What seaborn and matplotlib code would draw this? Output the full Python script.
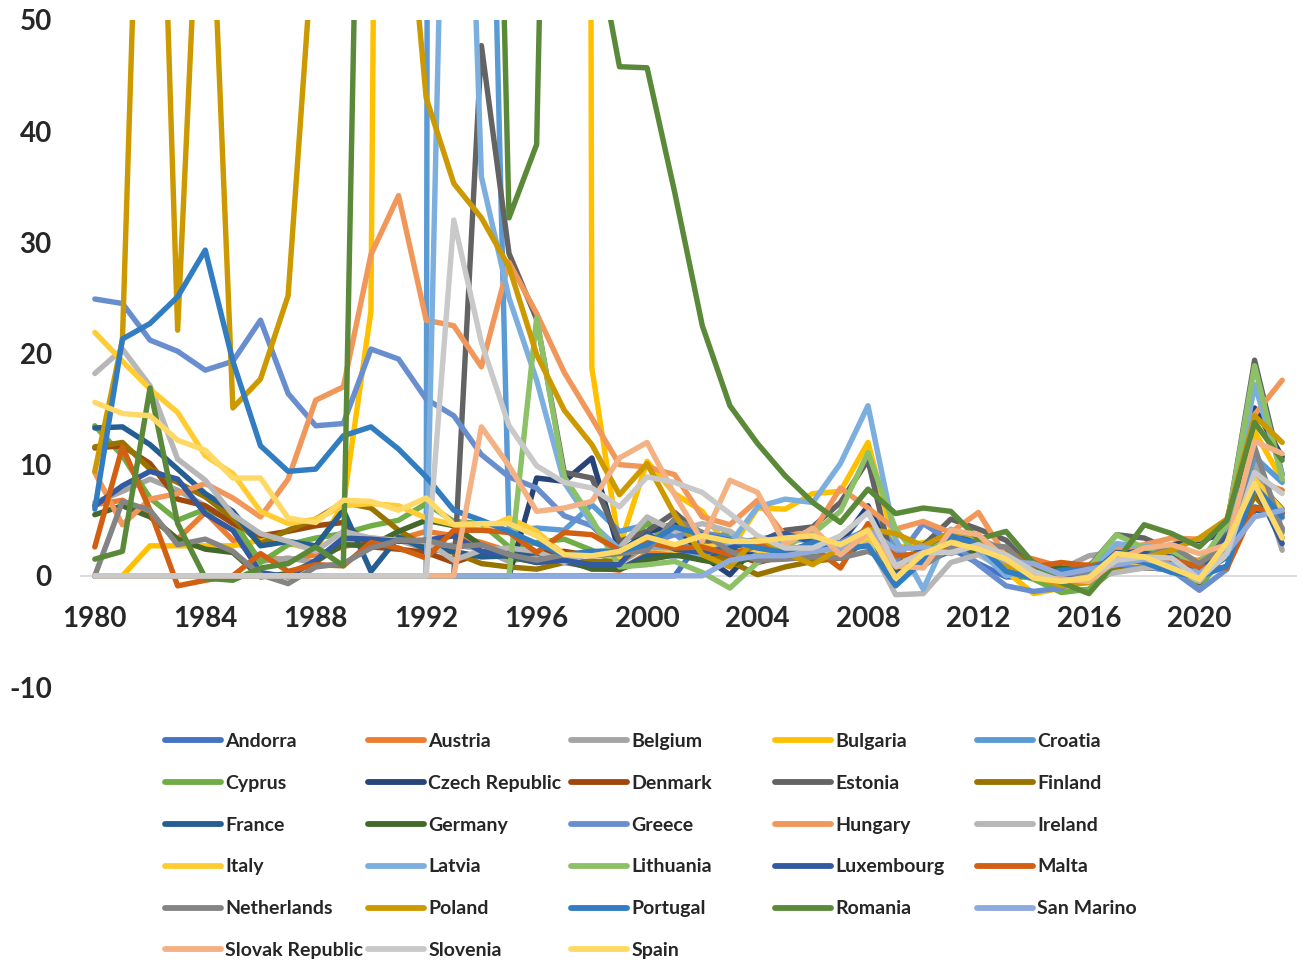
import matplotlib
matplotlib.use("Agg")
import matplotlib.pyplot as plt
import pandas as pd
import seaborn as sns

# Annual inflation, average consumer prices (%), 1980-2023
years = list(range(1980, 2024))

andorra = [0] * 22 + [3.4, 3.1, 3.2, 3.7, 3.6, 2.5, 4.3, 0.8,
                      1.7, 2.5, 1.1, -0.1, -0.1, -1.1, -0.4, 2.6, 1.0, 0.5,
                      0.1, 1.7, 6.2, 5.6]
austria = [6.4, 6.8, 5.4, 3.3, 5.7, 3.2, 1.7, 1.4, 1.9, 2.6,
           3.3, 3.3, 4.0, 3.6, 3.0, 2.2, 1.8, 1.2, 0.8, 0.5,
           2.0, 2.3, 1.7, 1.3, 2.0, 2.1, 1.7, 2.2, 3.2, 0.4,
           1.7, 3.6, 2.6, 2.1, 1.5, 0.8, 1.0, 2.2, 2.1, 1.5,
           1.4, 2.8, 8.6, 7.7]
belgium = [6.6, 7.6, 8.7, 7.7, 6.3, 4.9, 1.3, 1.6, 1.2, 3.1,
           3.4, 3.2, 2.4, 2.8, 2.4, 1.3, 1.8, 1.5, 0.9, 1.1,
           2.7, 2.4, 1.6, 1.5, 1.9, 2.5, 2.3, 1.8, 4.5, 0.0,
           2.3, 3.4, 2.6, 1.2, 0.5, 0.6, 1.8, 2.2, 2.3, 1.2,
           0.4, 3.2, 10.3, 2.3]
bulgaria = [0, 0, 2.7, 2.7, 2.7, 2.7, 3.2, 2.9, 2.4, 6.4,
            23.8, 338.0, 91.3, 72.9, 96.1, 62.1, 123.0, 1058.0, 18.7, 2.6,
            10.3, 7.4, 5.8, 2.3, 6.1, 6.0, 7.4, 7.6, 12.0, 2.5,
            3.0, 3.4, 2.4, 0.4, -1.6, -1.1, -1.3, 1.2, 2.6, 2.5,
            1.2, 2.8, 13.0, 8.6]
croatia = [0] * 13 + [1500.0, 107.0, 4.0, 4.3, 4.1, 6.4, 4.0,
                      4.6, 3.8, 1.7, 1.8, 2.0, 3.3, 3.2, 2.9, 6.1, 2.4,
                      1.0, 2.3, 3.4, 2.2, -0.2, -0.5, -0.6, 1.3, 1.6, 0.8,
                      0.0, 2.7, 10.7, 8.4]
cyprus = [13.5, 10.8, 7.0, 5.0, 6.0, 5.0, 1.2, 2.8, 3.4, 3.8,
          4.5, 5.0, 6.5, 4.9, 4.7, 2.6, 3.0, 3.3, 2.3, 1.1,
          4.9, 2.0, 2.8, 4.0, 1.9, 2.0, 2.2, 2.2, 4.4, 0.2,
          2.6, 3.5, 3.1, 0.4, -0.3, -1.5, -1.2, 0.7, 0.8, 0.5,
          -1.1, 2.3, 8.1, 3.9]
czech = [0] * 16 + [8.8, 8.5, 10.6, 2.1,
                    3.9, 4.7, 1.8, 0.1, 2.8, 1.8, 2.5, 2.9, 6.3, 1.0,
                    1.4, 2.2, 3.5, 1.4, 0.4, 0.3, 0.7, 2.5, 2.2, 2.8,
                    3.2, 3.8, 15.1, 10.7]
denmark = [11.5, 11.7, 10.1, 6.9, 6.3, 4.7, 3.6, 4.0, 4.5, 4.8,
           2.6, 2.4, 2.1, 1.2, 2.0, 2.1, 2.1, 2.2, 1.8, 2.1,
           2.7, 2.3, 2.4, 2.1, 1.2, 1.8, 1.9, 1.7, 3.6, 1.1,
           2.2, 2.7, 2.4, 0.5, 0.4, 0.2, 0.0, 1.1, 0.7, 0.7,
           0.3, 1.9, 8.5, 3.4]
estonia = [0] * 14 + [47.7, 29.0, 23.1, 9.3, 8.8, 3.1,
                      4.0, 5.7, 3.6, 1.4, 3.0, 4.1, 4.4, 6.6, 10.4, -0.1,
                      2.7, 5.1, 4.2, 3.2, 0.5, 0.1, 0.8, 3.7, 3.4, 2.3,
                      -0.6, 4.5, 19.4, 9.1]
finland = [11.6, 12.0, 9.6, 8.4, 7.1, 5.2, 2.9, 4.1, 5.1, 6.6,
           6.1, 4.1, 2.6, 2.1, 1.1, 0.8, 0.6, 1.2, 1.3, 1.3,
           2.9, 2.7, 2.0, 1.3, 0.1, 0.8, 1.3, 1.6, 3.9, 1.6,
           1.7, 3.3, 3.2, 2.2, 1.2, -0.2, 0.4, 0.8, 1.2, 1.1,
           0.4, 2.1, 7.2, 4.3]
france = [13.3, 13.4, 11.8, 9.6, 7.4, 5.8, 2.7, 3.1, 2.7, 5.9,
          0.4, 3.5, 2.4, 2.2, 1.7, 1.8, 2.1, 1.3, 0.7, 0.6,
          1.8, 1.8, 1.9, 2.2, 2.3, 1.9, 1.9, 1.6, 3.2, 0.1,
          1.7, 2.3, 2.2, 1.0, 0.6, 0.1, 0.3, 1.2, 2.1, 1.3,
          0.5, 2.1, 5.9, 5.7]
germany = [5.5, 6.3, 5.3, 3.3, 2.4, 2.1, -0.1, 0.2, 1.3, 2.8,
           2.7, 4.0, 5.0, 4.5, 2.7, 1.7, 1.2, 1.5, 0.6, 0.6,
           1.4, 1.9, 1.4, 1.0, 1.8, 1.9, 1.8, 2.3, 2.8, 0.2,
           1.1, 2.5, 2.2, 1.6, 0.8, 0.7, 0.4, 1.7, 1.9, 1.4,
           0.4, 3.2, 8.7, 6.0]
greece = [24.9, 24.5, 21.2, 20.2, 18.5, 19.3, 23.0, 16.4, 13.5, 13.7,
          20.4, 19.5, 15.9, 14.4, 10.9, 8.9, 7.9, 5.4, 4.5, 2.1,
          2.9, 3.7, 3.9, 3.4, 3.0, 3.5, 3.3, 3.0, 4.2, 1.3,
          4.7, 3.1, 1.0, -0.9, -1.4, -1.1, 0.0, 1.1, 0.8, 0.5,
          -1.3, 0.6, 9.3, 4.2]
hungary = [9.3, 4.6, 6.9, 7.4, 8.3, 7.0, 5.3, 8.7, 15.8, 17.0,
           28.9, 34.2, 23.0, 22.5, 18.8, 28.2, 23.6, 18.3, 14.2, 10.0,
           9.8, 9.1, 5.3, 4.6, 6.8, 3.6, 3.9, 7.9, 6.1, 4.2,
           4.9, 3.9, 5.7, 1.7, -0.2, -0.1, 0.4, 2.4, 2.8, 3.4,
           3.3, 5.1, 14.5, 17.6]
ireland = [18.2, 20.4, 17.1, 10.5, 8.6, 5.5, 3.8, 3.1, 2.2, 4.0,
           3.4, 3.2, 3.1, 1.4, 2.3, 2.5, 2.2, 1.2, 2.1, 2.5,
           5.3, 4.0, 4.7, 4.0, 2.3, 2.2, 2.7, 2.9, 3.1, -1.7,
           -1.6, 1.2, 1.9, 0.5, 0.3, 0.0, -0.2, 0.3, 0.7, 0.9,
           -0.5, 2.4, 8.1, 5.2]
italy = [21.9, 19.3, 16.8, 14.7, 10.8, 9.2, 5.8, 4.7, 5.1, 6.3,
         6.5, 6.3, 5.2, 4.6, 4.1, 5.2, 4.0, 1.9, 2.0, 1.7,
         2.6, 2.3, 2.6, 2.8, 2.3, 2.2, 2.2, 2.0, 3.5, 0.8,
         1.6, 2.9, 3.3, 1.2, 0.2, 0.1, -0.1, 1.3, 1.2, 0.6,
         -0.1, 1.9, 8.7, 5.9]
latvia = [0] * 13 + [109.0, 35.9, 25.0, 17.6, 8.4, 4.7, 2.4,
                     2.6, 2.5, 1.9, 2.9, 6.2, 6.9, 6.6, 10.1, 15.3, 3.3,
                     -1.2, 4.2, 2.3, 0.0, 0.7, 0.2, 0.1, 2.9, 2.6, 2.7,
                     0.1, 3.2, 17.2, 9.1]
lithuania = [0] * 16 + [23.2, 8.9, 5.1, 0.8,
                        1.0, 1.3, 0.3, -1.1, 1.2, 2.7, 3.8, 5.8, 11.1, 4.2,
                        1.2, 4.1, 3.2, 1.2, 0.2, -0.7, 0.7, 3.7, 2.5, 2.2,
                        1.1, 4.6, 18.9, 8.7]
luxembourg = [6.3, 8.1, 9.4, 8.7, 5.6, 4.1, 0.3, -0.1, 1.4, 3.4,
              3.3, 3.1, 3.2, 3.6, 2.2, 1.9, 1.2, 1.4, 1.0, 1.0,
              3.8, 2.4, 2.1, 2.5, 3.2, 3.8, 3.0, 2.7, 4.1, 0.0,
              2.8, 3.7, 2.9, 1.7, 0.7, 0.1, 0.0, 2.1, 2.0, 1.7,
              0.0, 3.5, 8.2, 2.9]
malta = [2.6, 11.6, 5.9, -0.9, -0.4, 0.0, 2.0, 0.4, 1.0, 0.9,
         3.0, 2.5, 1.6, 4.1, 4.1, 3.9, 2.1, 3.9, 3.7, 2.3,
         3.0, 2.5, 2.6, 1.9, 2.7, 2.5, 2.6, 0.7, 4.7, 1.8,
         2.0, 2.5, 3.2, 1.0, 0.8, 1.2, 0.9, 1.3, 1.7, 1.5,
         0.8, 0.7, 6.1, 5.6]
netherlands = [0.0, 6.7, 5.9, 2.8, 3.3, 2.2, 0.1, -0.7, 0.8, 1.1,
               2.5, 3.2, 3.2, 2.6, 2.8, 1.9, 1.4, 1.9, 1.8, 2.0,
               2.3, 5.1, 3.9, 2.2, 1.4, 1.5, 1.7, 1.6, 2.2, 1.0,
               0.9, 2.5, 2.8, 2.6, 0.3, 0.2, 0.1, 1.3, 1.6, 2.7,
               1.1, 2.8, 11.6, 4.1]
poland = [9.4, 21.2, 100.8, 22.1, 76.0, 15.1, 17.7, 25.2, 60.2, 251.1,
          585.8, 70.3, 43.0, 35.3, 32.2, 27.8, 19.9, 14.9, 11.8, 7.3,
          10.1, 5.5, 1.9, 0.8, 3.5, 2.1, 1.0, 2.5, 4.2, 3.8,
          2.7, 3.9, 3.7, 0.9, 0.0, -0.9, -0.6, 2.0, 1.6, 2.3,
          3.4, 5.1, 14.4, 12.0]
portugal = [6.0, 21.3, 22.7, 25.1, 29.3, 19.3, 11.7, 9.4, 9.6, 12.6,
            13.4, 11.4, 8.9, 5.9, 5.0, 4.0, 2.9, 1.9, 2.2, 2.2,
            2.8, 4.4, 3.7, 3.2, 2.5, 2.1, 3.0, 2.4, 2.7, -0.9,
            1.4, 3.6, 2.8, 0.4, -0.2, 0.5, 0.6, 1.6, 1.2, 0.3,
            -0.1, 0.9, 8.1, 5.3]
romania = [1.5, 2.2, 16.9, 4.7, -0.2, -0.4, 0.7, 1.1, 2.6, 0.9,
           127.9, 161.1, 210.4, 256.1, 136.8, 32.2, 38.8, 154.8, 59.1, 45.8,
           45.7, 34.5, 22.5, 15.3, 11.9, 9.0, 6.6, 4.8, 7.8, 5.6,
           6.1, 5.8, 3.3, 4.0, 1.1, -0.6, -1.6, 1.3, 4.6, 3.8,
           2.6, 5.0, 13.8, 10.4]
san_marino = [0] * 23 + [1.4, 1.8, 1.8, 2.2, 2.5, 4.1, 2.4,
                         2.6, 2.0, 2.8, 1.3, 1.1, 0.1, 0.6, 1.0, 1.5, 1.0,
                         0.2, 2.1, 5.3, 5.9]
slovakia = [0] * 14 + [13.4, 9.9, 5.8, 6.1, 6.7, 10.6,
                       12.0, 7.3, 3.1, 8.6, 7.5, 2.8, 4.3, 1.9, 3.9, 0.9,
                       0.7, 4.1, 3.7, 1.5, -0.1, -0.3, -0.5, 1.4, 2.5, 2.8,
                       2.0, 2.8, 12.1, 11.0]
slovenia = [0] * 13 + [32.0, 21.0, 13.5, 9.9, 8.4, 7.9, 6.2,
                       8.9, 8.4, 7.5, 5.6, 3.6, 2.5, 2.5, 3.6, 5.7, 0.9,
                       2.1, 2.1, 2.8, 1.9, 0.4, -0.5, -0.1, 1.4, 1.7, 1.6,
                       -0.3, 2.0, 9.3, 7.4]
spain = [15.6, 14.6, 14.4, 12.2, 11.3, 8.8, 8.8, 5.2, 4.8, 6.8,
         6.7, 5.9, 7.0, 4.6, 4.7, 4.7, 3.6, 1.9, 1.8, 2.2,
         3.5, 2.8, 3.6, 3.1, 3.1, 3.4, 3.6, 2.8, 4.1, -0.2,
         2.0, 3.0, 2.4, 1.5, -0.2, -0.5, -0.2, 2.0, 1.7, 0.7,
         -0.3, 3.0, 8.3, 3.4]

countries = ["Andorra", "Austria", "Belgium", "Bulgaria", "Croatia",
             "Cyprus", "Czech Republic", "Denmark", "Estonia", "Finland",
             "France", "Germany", "Greece", "Hungary", "Ireland",
             "Italy", "Latvia", "Lithuania", "Luxembourg", "Malta",
             "Netherlands", "Poland", "Portugal", "Romania", "San Marino",
             "Slovak Republic", "Slovenia", "Spain"]
series = [andorra, austria, belgium, bulgaria, croatia,
          cyprus, czech, denmark, estonia, finland,
          france, germany, greece, hungary, ireland,
          italy, latvia, lithuania, luxembourg, malta,
          netherlands, poland, portugal, romania, san_marino,
          slovakia, slovenia, spain]
colors = ["#4472C4", "#ED7D31", "#A5A5A5", "#FFC000", "#5B9BD5",
          "#70AD47", "#264478", "#9E480E", "#636363", "#997300",
          "#255E91", "#43682B", "#698ED0", "#F1975A", "#B7B7B7",
          "#FFCD33", "#7CAFDD", "#8CC168", "#335AA1", "#D26012",
          "#848484", "#CC9A00", "#327DC2", "#5A8A39", "#8FAADC",
          "#F4B183", "#C9C9C9", "#FFD966"]
x_ticks = list(range(1980, 2021, 4))
y_ticks = list(range(-10, 51, 10))

df = pd.concat(
    [pd.DataFrame({"Year": years, "Inflation": vals, "Country": name})
     for name, vals in zip(countries, series)],
    ignore_index=True,
)
palette = dict(zip(countries, colors))

sns.set_style("white")
plt.rcParams["font.family"] = ["Lato", "DejaVu Sans"]
plt.rcParams["font.weight"] = "bold"

W, H = 1305, 960
fig = plt.figure(figsize=(W / 100, H / 100), dpi=100)
ax = fig.add_axes([81 / W, 1 - 687 / H, (1296 - 81) / W, (687 - 20) / H])

sns.lineplot(data=df, x="Year", y="Inflation", hue="Country",
             hue_order=countries, palette=palette, linewidth=3.9,
             estimator=None, sort=False, legend=False, ax=ax)

# Horizontal axis runs through zero
for side in ("top", "right", "left"):
    ax.spines[side].set_visible(False)
ax.spines["bottom"].set_position(("data", 0))
ax.spines["bottom"].set_color("#D9D9D9")
ax.spines["bottom"].set_linewidth(1.3)
ax.spines["bottom"].set_zorder(0.5)

ax.set_xlim(1979.5, 2023.5)
ax.set_ylim(-10, 50)
ax.set_xlabel("")
ax.set_ylabel("")
ax.set_xticks(x_ticks)
ax.set_xticklabels([str(t) for t in x_ticks])
ax.set_yticks(y_ticks)
ax.set_yticklabels([str(t) for t in y_ticks])
ax.tick_params(axis="x", length=0, pad=22, labelsize=20)
ax.tick_params(axis="y", length=0, pad=21, labelsize=20)
for lab in ax.get_xticklabels() + ax.get_yticklabels():
    lab.set_fontweight("bold")

# Legend: five columns filled row by row
handles = {name: plt.Line2D([], [], color=palette[name], linewidth=4.2,
                            solid_capstyle="round")
           for name in countries}
col_x = [165, 368, 571, 775, 977]
row_top, row_step = 741.5, 41.8
for c, x0 in enumerate(col_x):
    names = countries[c::5]
    n = len(names)
    yc = row_top + row_step * (n - 1) / 2
    fig.legend([handles[nm] for nm in names], names,
               loc="center left", bbox_to_anchor=(x0 / W, 1 - yc / H),
               frameon=False, ncol=1, prop={"weight": "bold", "size": 14},
               handlelength=2.9, handletextpad=0.2, labelspacing=1.28,
               borderpad=0, borderaxespad=0)

fig.savefig("out.png", dpi=100, facecolor="white")
